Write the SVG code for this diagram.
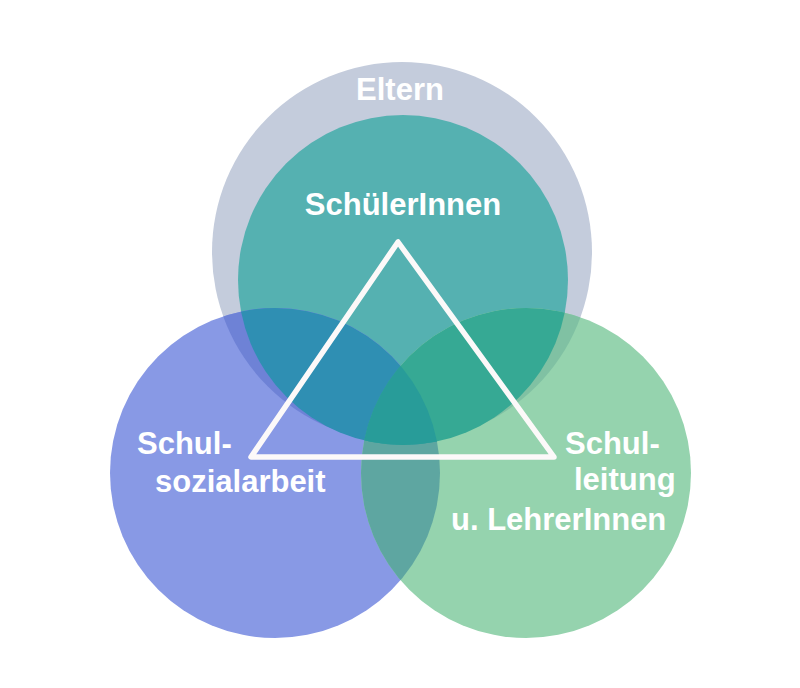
<svg xmlns="http://www.w3.org/2000/svg" width="800" height="688" viewBox="0 0 800 688">
  <style>
    .lbl { font-family: "Liberation Sans", Arial, sans-serif; font-weight: bold; font-size: 31px; fill: #ffffff; }
    .tri { fill: none; stroke: #fcf9f9; stroke-width: 5.5; stroke-linejoin: round; }
  </style>
  <defs>
    <clipPath id="cEltern"><circle cx="402" cy="252" r="190"/></clipPath>
    <clipPath id="cTeal"><circle cx="403" cy="280" r="165"/></clipPath>
    <clipPath id="cBlue"><circle cx="275" cy="473" r="165"/></clipPath>
    <clipPath id="cGreen"><circle cx="526" cy="473" r="165"/></clipPath>
  </defs>
  <rect width="800" height="688" fill="#ffffff"/>

  <g id="eltern">
    <circle cx="402" cy="252" r="190" fill="#c4ccdc"/>
    <text class="lbl" x="400" y="100" text-anchor="middle">Eltern</text>
  </g>
  <g id="schuelerinnen">
    <circle cx="403" cy="280" r="165" fill="#55b1b1"/>
    <text class="lbl" x="403" y="215" text-anchor="middle">SchülerInnen</text>
  </g>
  <g id="schulsozialarbeit">
    <circle cx="275" cy="473" r="165" fill="#8899e5"/>
    <text class="lbl" x="137" y="454">Schul-</text>
    <text class="lbl" x="155" y="492">sozialarbeit</text>
  </g>
  <g id="schulleitung">
    <circle cx="526" cy="473" r="165" fill="#95d3ae"/>
    <text class="lbl" x="565" y="454">Schul-</text>
    <text class="lbl" x="574" y="490">leitung</text>
    <text class="lbl" x="451" y="530">u. LehrerInnen</text>
  </g>

  <g id="overlaps">
    <circle cx="275" cy="473" r="165" fill="#6e82d6" clip-path="url(#cEltern)"/>
    <circle cx="526" cy="473" r="165" fill="#80c1a3" clip-path="url(#cEltern)"/>
    <circle cx="526" cy="473" r="165" fill="#5ea6a1" clip-path="url(#cBlue)"/>
    <circle cx="275" cy="473" r="165" fill="#2f8fb3" clip-path="url(#cTeal)"/>
    <circle cx="526" cy="473" r="165" fill="#36a994" clip-path="url(#cTeal)"/>
    <g clip-path="url(#cBlue)">
      <circle cx="526" cy="473" r="165" fill="#289c99" clip-path="url(#cTeal)"/>
    </g>
  </g>

  <g id="connectors">
    <polygon class="tri" points="398,242 251,457 554,457"/>
  </g>
</svg>
